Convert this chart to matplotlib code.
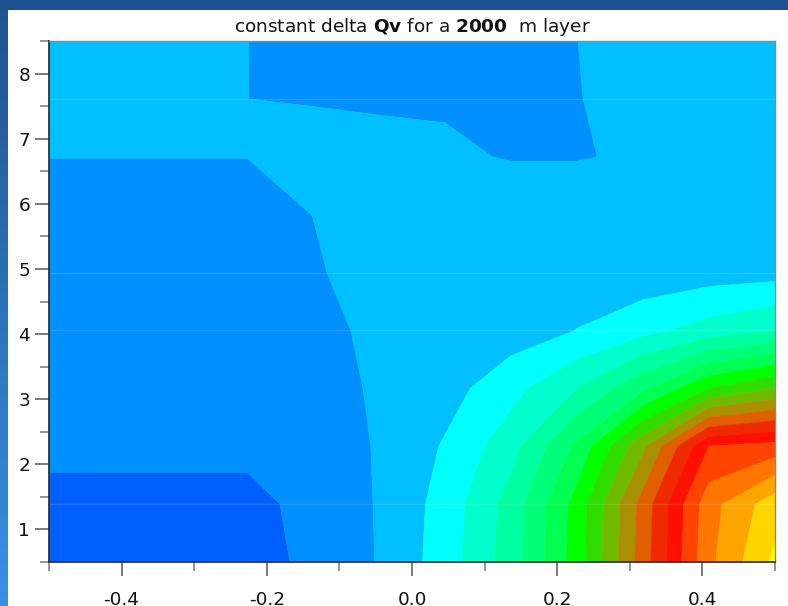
import numpy as np
import matplotlib
matplotlib.use("Agg")
import matplotlib.pyplot as plt
from matplotlib.patches import Rectangle
from matplotlib.colors import LinearSegmentedColormap

plt.rcParams['font.family'] = ['DejaVu Sans']
plt.rcParams['axes.unicode_minus'] = False
plt.rcParams['mathtext.fontset'] = 'dejavusans'

# grid of the field: horizontal coordinate and height
x = np.linspace(-0.5, 0.5, 12)
y = np.linspace(0.5, 8.5, 10)

# delta Qv field, one row per height (bottom to top)
dqv = np.array([
    [0.5, 0.5, 0.5, 0.5, 1.27, 2.05, 3.49, 5.5, 8.5, 12.5, 16.75, 19.2],
    [0.5, 0.5, 0.5, 0.5, 1.5, 2.05, 3.4, 5.4, 8.4, 12.4, 16.6, 18.6],
    [1.41, 1.41, 1.41, 1.41, 1.65, 2.05, 3.1, 4.6, 7.2, 10.8, 15.0, 15.37],
    [1.5, 1.5, 1.5, 1.5, 1.5, 2.16, 2.6, 3.65, 5.0, 6.8, 9.0, 10.0],
    [1.5, 1.5, 1.5, 1.5, 1.6, 2.3, 2.4, 2.5, 3.02, 3.7, 4.45, 5.0],
    [1.6, 1.6, 1.6, 1.6, 1.85, 2.56, 2.55, 2.5, 2.5, 2.38, 2.54, 2.64],
    [1.6, 1.6, 1.6, 1.6, 2.01, 2.4, 2.5, 2.5, 2.5, 2.5, 2.5, 2.5],
    [2.01, 2.01, 2.01, 2.01, 2.5, 2.45, 2.1, 1.96, 1.96, 2.09, 2.4, 2.4],
    [2.3, 2.3, 2.3, 2.002, 1.925, 1.825, 1.93, 1.75, 1.97, 2.3, 2.4, 2.4],
    [2.3, 2.3, 2.3, 2.002, 1.9, 1.85, 1.8, 1.8, 1.995, 2.3, 2.4, 2.4],
])

levels = np.arange(0, 21)
fill_colors = [
    '#0060ff', '#0090ff', '#00c0ff', '#00ffff', '#00ffcc',
    '#00ffa0', '#00ff78', '#00ff50', '#00ff00', '#30dd00',
    '#70bb00', '#aa9000', '#e06000', '#f02a00', '#ff1000',
    '#ff4400', '#ff7700', '#ffa500', '#ffd700', '#ffff00',
]

xticks = [-0.4, -0.2, 0.0, 0.2, 0.4]
xticklabels = ['-0.4', '-0.2', '0.0', '0.2', '0.4']
yticks = [1, 2, 3, 4, 5, 6, 7, 8]

W, H = 788, 606
fig = plt.figure(figsize=(W / 100, H / 100), dpi=100)

# slide backdrop: blue gradient frame with a white panel
bg = fig.add_axes([0, 0, 1, 1], zorder=-10)
grad = np.linspace(0, 1, 256).reshape(-1, 1)
bg_cmap = LinearSegmentedColormap.from_list('frame', ['#1d5290', '#3a90e6'])
bg.imshow(grad, aspect='auto', cmap=bg_cmap, extent=[0, 1, 0, 1], origin='upper')
bg.add_patch(Rectangle((8 / W, 0), 1, (H - 10) / H, facecolor='white', edgecolor='none'))
bg.set_xlim(0, 1)
bg.set_ylim(0, 1)
bg.set_axis_off()

ax = fig.add_axes([49 / W, 44 / H, 726 / W, 521 / H])
cs = ax.contourf(x, y, dqv, levels=levels, colors=fill_colors, antialiased=True)
cs.set_edgecolor('face')
cs.set_linewidth(0.4)

# faint raster seams along a few grid rows
for yy in y[[1, 4, 5, 8]]:
    ax.axhline(yy, color='white', alpha=0.13, lw=1.0)

ax.set_xlim(-0.5, 0.5)
ax.set_ylim(0.5, 8.5)
ax.set_xticks(xticks)
ax.set_xticklabels(xticklabels)
ax.set_xticks(np.arange(-0.5, 0.51, 0.2), minor=True)
ax.set_yticks(yticks)
ax.set_yticks(np.arange(0.5, 8.51, 1.0), minor=True)

ax.tick_params(which='major', direction='out', length=10, width=1.1,
               color='#555555', labelsize=13.3, labelcolor='#111111')
ax.tick_params(which='minor', direction='out', length=6.5, width=1.1, color='#777777')
ax.tick_params(axis='x', which='major', pad=11)
ax.tick_params(axis='y', which='major', pad=3.5)

for side in ('left', 'bottom'):
    ax.spines[side].set_color('#333333')
    ax.spines[side].set_linewidth(1.3)
for side in ('top', 'right'):
    ax.spines[side].set_color('#888888')
    ax.spines[side].set_linewidth(1.0)

ax.set_title(r'constant delta $\mathbf{Qv}$ for a $\mathbf{2000}$  m layer',
             fontsize=13.3, color='#111111', pad=6.5)

fig.savefig('out.png', dpi=100)
